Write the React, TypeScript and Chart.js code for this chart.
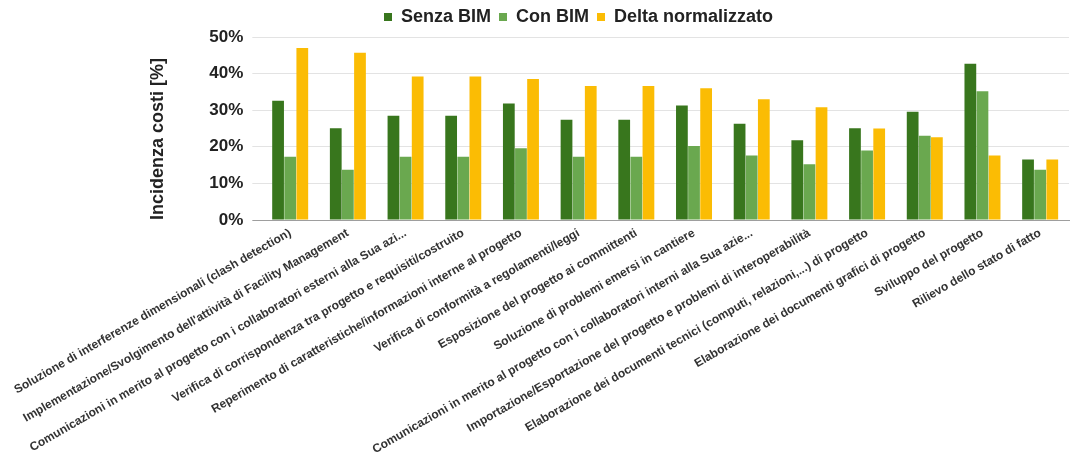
import React, { useEffect, useRef } from 'react';
import { Chart, registerables } from 'chart.js';
Chart.register(...registerables);

const categories = [
  'Soluzione di interferenze dimensionali (clash detection)',
  "Implementazione/Svolgimento dell'attività di Facility Management",
  'Comunicazioni in merito al progetto con i collaboratori esterni alla Sua azi...',
  'Verifica di corrispondenza tra progetto e requisiti/costruito',
  'Reperimento di caratteristiche/informazioni interne al progetto',
  'Verifica di conformità a regolamenti/leggi',
  'Esposizione del progetto ai committenti',
  'Soluzione di problemi emersi in cantiere',
  'Comunicazioni in merito al progetto con i collaboratori interni alla Sua azie...',
  'Importazione/Esportazione del progetto e problemi di interoperabilità',
  'Elaborazione dei documenti tecnici (computi, relazioni,...) di progetto',
  'Elaborazione dei documenti grafici di progetto',
  'Sviluppo del progetto',
  'Rilievo dello stato di fatto',
];

const senzaBIM = [32.6, 25.1, 28.5, 28.5, 31.8, 27.4, 27.4, 31.3, 26.3, 21.8, 25.1, 29.6, 42.7, 16.5];
const conBIM = [17.3, 13.7, 17.3, 17.3, 19.6, 17.3, 17.3, 20.2, 17.6, 15.2, 19.0, 23.0, 35.2, 13.7];
const deltaNormalizzato = [47.0, 45.7, 39.2, 39.2, 38.5, 36.6, 36.6, 36.0, 33.0, 30.8, 25.0, 22.6, 17.6, 16.5];

const seriesNames = ['Senza BIM', 'Con BIM', 'Delta normalizzato'];
const seriesColors = ['#38761d', '#6aa84f', '#fbbc04'];
const yMin = 0;
const yMax = 50;
const yStep = 10;

const FONT = '"Liberation Sans", Arial, sans-serif';

const legendShift = {
  id: 'legendShift',
  afterLayout(chart: any) {
    const l = chart.legend;
    if (l) {
      l.left += 44;
      l.right += 44;
      l.top -= 1;
      l.bottom -= 1;
    }
  },
};

export default function App() {
  const ref = useRef<HTMLCanvasElement | null>(null);
  useEffect(() => {
    document.body.style.margin = '0';
    const canvas = ref.current;
    if (!canvas) return;
    const data = [senzaBIM, conBIM, deltaNormalizzato];
    const chart = new Chart(canvas, {
      type: 'bar',
      data: {
        labels: categories,
        datasets: data.map((d, i) => ({
          label: seriesNames[i],
          data: d,
          backgroundColor: seriesColors[i],
          borderWidth: 0,
          barPercentage: 0.97,
          categoryPercentage: 0.63,
        })),
      },
      plugins: [legendShift],
      options: {
        responsive: false,
        animation: false,
        layout: { padding: { top: 1, right: 2, left: 0, bottom: 0 } },
        plugins: {
          legend: {
            position: 'top',
            labels: {
              boxWidth: 8,
              boxHeight: 8,
              padding: 8,
              color: '#222',
              font: { family: FONT, size: 18, weight: 'bold' },
            },
          },
          tooltip: { enabled: false },
        },
        scales: {
          x: {
            grid: { display: false, drawTicks: false },
            border: { display: true, color: '#9e9e9e', width: 1 },
            ticks: {
              autoSkip: false,
              maxRotation: 30,
              minRotation: 30,
              padding: 6,
              color: '#333',
              font: { family: FONT, size: 12, weight: 'bold' },
            },
            afterFit: (scale: any) => {
              scale.height = 240;
            },
          },
          y: {
            min: yMin,
            max: yMax,
            ticks: {
              stepSize: yStep,
              padding: 9,
              color: '#222',
              font: { family: FONT, size: 17, weight: 'bold' },
              callback: (v: any) => v + '%',
            },
            grid: {
              drawTicks: true,
              tickLength: 9,
              lineWidth: 1,
              color: (ctx: any) => (ctx.tick && ctx.tick.value === 0 ? '#9e9e9e' : '#e3e3e3'),
            },
            border: { display: false },
            title: {
              display: true,
              text: 'Incidenza costi [%]',
              align: 'start',
              color: '#222',
              font: { family: FONT, size: 18, weight: 'bold' },
              padding: { top: 147, bottom: 0 },
            },
            afterFit: (scale: any) => {
              scale.width = 261;
            },
          },
        },
      },
    } as any);
    return () => chart.destroy();
  }, []);
  return (
    <div style={{ width: 1071, height: 460 }}>
      <canvas ref={ref} width={1071} height={460} />
    </div>
  );
}
